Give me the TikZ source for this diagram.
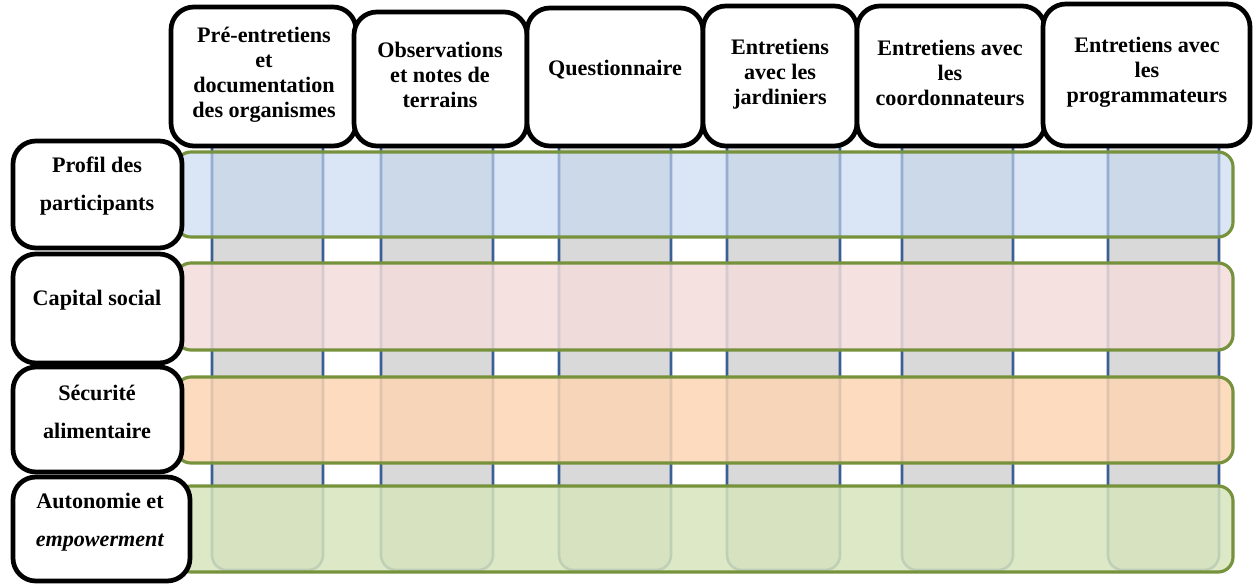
\documentclass[tikz,border=0pt]{standalone}
\usepackage{fontspec}
\setmainfont{Liberation Serif}
\usetikzlibrary{fit}
\definecolor{colgray}{HTML}{D9D9D9}
\definecolor{colblue}{HTML}{3A5F94}
\definecolor{bandgreen}{HTML}{76923C}
\definecolor{bandblue}{HTML}{C6D9F1}
\definecolor{bandpink}{HTML}{F2DCDB}
\definecolor{bandpeach}{HTML}{FCD5B4}
\definecolor{bandlgreen}{HTML}{D7E4BD}
\begin{document}
\begin{tikzpicture}[x=0.02cm,y=-0.02cm,
  colbar/.style={draw=colblue,line width=1.5pt,fill=colgray,rounded corners=8.5pt},
  band/.style={draw=bandgreen,line width=1.8pt,rounded corners=8.5pt},
  blackbox/.style={draw=black,line width=2.7pt,fill=white,rounded corners=13pt,inner sep=0pt},
  hdrtext/.style={align=center,font=\bfseries\fontsize{12.6}{14.3}\selectfont,inner sep=0pt},
  rowtext/.style={align=center,font=\bfseries\fontsize{12.6}{21.6}\selectfont,inner sep=0pt}]
\useasboundingbox (0,0) rectangle (1254,585);
% columns
\foreach \a/\b in {212/323,381/493,559/671,727/840,902/1013,1108/1219}
  \draw[colbar] (\a,130) rectangle (\b,570);
% bands
\draw[band,fill=bandblue,fill opacity=0.65] (176,152) rectangle (1233,237);
\draw[band,fill=bandpink,fill opacity=0.85] (176,263) rectangle (1233,350);
\draw[band,fill=bandpeach,fill opacity=0.85] (176,377) rectangle (1233,463);
\draw[band,fill=bandlgreen,fill opacity=0.85] (176,486) rectangle (1233,572);
% header boxes
\node[blackbox,fit={(171,7)(356,146)}] (h1) {};
\node[blackbox,fit={(354,12)(527,146)}] (h2) {};
\node[blackbox,fit={(527,8)(703,146)}] (h3) {};
\node[blackbox,fit={(703,6)(857,146)}] (h4) {};
\node[blackbox,fit={(857,6)(1045,146)}] (h5) {};
\node[blackbox,fit={(1043,4)(1250,146)}] (h6) {};
\node[hdrtext] (t1) at (264,75) {Pré-entretiens\\et\\documentation\\des organismes};
\node[hdrtext] (t2) at (440,75) {Observations\\et notes de\\terrains};
\node[hdrtext] (t3) at (615,70) {Questionnaire};
\node[hdrtext] (t4) at (780,74) {Entretiens\\avec les\\jardiniers};
\node[hdrtext] (t5) at (950,73) {Entretiens avec\\les\\coordonnateurs};
\node[hdrtext] (t6) at (1147,72) {Entretiens avec\\les\\programmateurs};
% row label boxes
\node[blackbox,fit={(13,141)(182,248)}] (l1) {};
\node[blackbox,fit={(13,254)(182,363)}] (l2) {};
\node[blackbox,fit={(13,367)(182,472)}] (l3) {};
\node[blackbox,fit={(13,477)(190,581)}] (l4) {};
\node[rowtext] (r1) at (97,186) {Profil des\\participants};
\node[rowtext] (r2) at (97,300) {Capital social};
\node[rowtext] (r3) at (97,412) {Sécurité\\alimentaire};
\node[rowtext] (r4) at (100,522) {Autonomie et\\\textit{empowerment}};
\end{tikzpicture}
\end{document}
